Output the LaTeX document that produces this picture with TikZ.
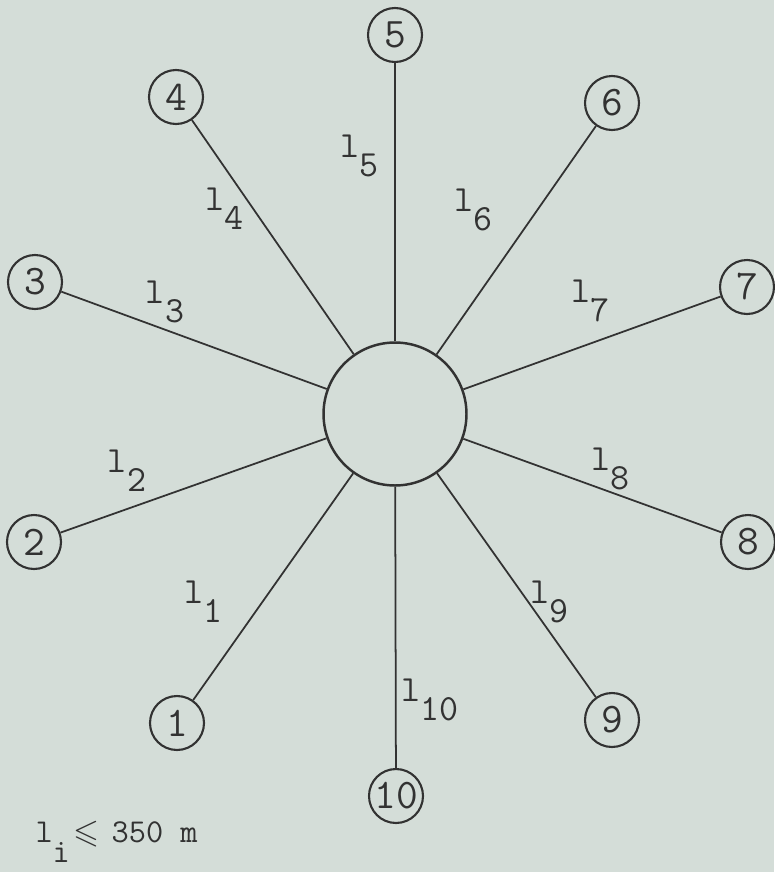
\documentclass[tikz,border=0pt]{standalone}
\usepackage{amssymb}
\usetikzlibrary{positioning}
\definecolor{paper}{RGB}{212,221,216}
\definecolor{ink}{RGB}{50,50,50}
\newcommand{\seglen}[1]{l\raisebox{-11pt}{#1}}

\begin{document}
\begin{tikzpicture}[x=0.02cm, y=-0.02cm, color=ink, semithick,
    station/.style={circle, draw, line width=1.2pt, minimum size=1.08cm, inner sep=0pt,
        font=\fontsize{24}{24}\selectfont\ttfamily},
    hub/.style={circle, draw, line width=1.4pt, minimum size=2.86cm},
    seg/.style={inner sep=0pt, font=\fontsize{21}{21}\selectfont\ttfamily}]

% Background and page size
\fill[paper] (0,0) rectangle (774,872);
\useasboundingbox (0,0) rectangle (774,872);

% Define nodes
\node[hub] (c) at (395, 414) {};
\node[station] (1) at (177, 723) {1};
\node[station] (2) at (34, 542) {2};
\node[station] (3) at (35, 282) {3};
\node[station] (4) at (176, 97) {4};
\node[station] (5) at (395, 35) {5};
\node[station] (6) at (612, 103) {6};
\node[station] (7) at (747, 287) {7};
\node[station] (8) at (748, 542) {8};
\node[station] (9) at (612, 720) {9};
\node[station] (10) at (396, 796) {10};

% Segment labels
\node[seg] (s1) at (203, 602) {\seglen{1}};
\node[seg] (s2) at (127, 471) {\seglen{2}};
\node[seg] (s3) at (165, 302) {\seglen{3}};
\node[seg] (s4) at (224, 209) {\seglen{4}};
\node[seg] (s5) at (359, 156) {\seglen{5}};
\node[seg] (s6) at (473, 210) {\seglen{6}};
\node[seg] (s7) at (590, 301) {\seglen{7}};
\node[seg] (s8) at (610, 469) {\seglen{8}};
\node[seg] (s9) at (549, 602) {\seglen{9}};
\node[seg] (s10) at (430, 700) {\seglen{10}};

% Length note
\node[inner sep=0pt, anchor=west, font=\fontsize{19}{19}\selectfont\ttfamily] (note) at (35, 842)
    {l\raisebox{-11pt}{i}\hspace{2pt}$\leqslant$\hspace{7pt}350 m};

% Draw edges
\path[line width=1pt]
    (c) edge (1)
        edge (2)
        edge (3)
        edge (4)
        edge (5)
        edge (6)
        edge (7)
        edge (8)
        edge (9)
        edge (10);

\end{tikzpicture}
\end{document}
